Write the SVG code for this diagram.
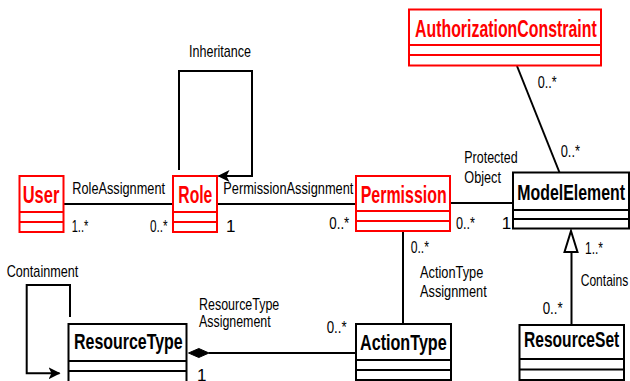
<svg xmlns="http://www.w3.org/2000/svg" width="630" height="381" viewBox="0 0 630 381">
<style>
.box{fill:#fff;stroke:#000;stroke-width:2}
.red .box{stroke:#ff0000}
.sep{stroke:#000;stroke-width:2}
.red .sep{stroke:#ff0000}
.title{font-family:"Liberation Sans",Arial,sans-serif;font-weight:bold;font-size:22.5px;fill:#000}
.red .title{fill:#ff0000;font-size:24px}
.lbl{font-family:"Liberation Sans",Arial,sans-serif;font-size:17px;fill:#000}
.ln{fill:none;stroke:#000;stroke-width:2}
</style>
<defs>
<marker id="arr" viewBox="0 0 12 12" refX="11" refY="6" markerWidth="12" markerHeight="12" markerUnits="userSpaceOnUse" orient="auto">
<path d="M0,0 L12,6 L0,12 L3,6 Z" fill="#000"/>
</marker>
</defs>
<rect width="630" height="381" fill="#fff"/>

<g id="connectors">
<line class="ln" x1="63" y1="204" x2="173" y2="204"/>
<line class="ln" x1="217" y1="204" x2="356" y2="204"/>
<line class="ln" x1="450" y1="203" x2="513" y2="203"/>
<line class="ln" x1="517" y1="66" x2="559.5" y2="172.5"/>
<line class="ln" x1="403" y1="231" x2="403" y2="324"/>
<line class="ln" x1="209" y1="353" x2="356" y2="353"/>
<path d="M188.5,353 L198.8,348.5 L209,353 L198.8,357.5 Z" fill="#000" stroke="#000" stroke-width="1"/>
<line class="ln" x1="571.5" y1="252" x2="571.5" y2="325"/>
<path d="M571,231 L577.5,252 L564.5,252 Z" fill="#fff" stroke="#000" stroke-width="2"/>
<path class="ln" d="M179,170 V71 H252 V176 H218.5" marker-end="url(#arr)"/>
<path class="ln" d="M70,317 V285 H26.7 V373.3 H59.5" marker-end="url(#arr)"/>
</g>

<g id="labels">
<text class="lbl" x="189" y="56.7" textLength="62" lengthAdjust="spacingAndGlyphs">Inheritance</text>
<text class="lbl" x="72.3" y="194" textLength="92.7" lengthAdjust="spacingAndGlyphs">RoleAssignment</text>
<text class="lbl" x="71.7" y="231.7" textLength="16.6" lengthAdjust="spacingAndGlyphs">1..*</text>
<text class="lbl" x="150" y="231.7" textLength="17.7" lengthAdjust="spacingAndGlyphs">0..*</text>
<text class="lbl" x="226" y="231.7">1</text>
<text class="lbl" x="223.3" y="194" textLength="130" lengthAdjust="spacingAndGlyphs">PermissionAssignment</text>
<text class="lbl" x="329.3" y="229" textLength="20" lengthAdjust="spacingAndGlyphs">0..*</text>
<text class="lbl" x="464.3" y="162.7" textLength="53.4" lengthAdjust="spacingAndGlyphs">Protected</text>
<text class="lbl" x="464.3" y="182.7" textLength="36.7" lengthAdjust="spacingAndGlyphs">Object</text>
<text class="lbl" x="456" y="229" textLength="19" lengthAdjust="spacingAndGlyphs">0..*</text>
<text class="lbl" x="501.7" y="229">1</text>
<text class="lbl" x="560.7" y="157.3" textLength="19.3" lengthAdjust="spacingAndGlyphs">0..*</text>
<text class="lbl" x="537.7" y="88.3" textLength="19" lengthAdjust="spacingAndGlyphs">0..*</text>
<text class="lbl" x="410.7" y="253.3" textLength="18.3" lengthAdjust="spacingAndGlyphs">0..*</text>
<text class="lbl" x="420" y="278.3" textLength="63.3" lengthAdjust="spacingAndGlyphs">ActionType</text>
<text class="lbl" x="420" y="296.7" textLength="66.7" lengthAdjust="spacingAndGlyphs">Assignment</text>
<text class="lbl" x="585" y="254" textLength="18" lengthAdjust="spacingAndGlyphs">1..*</text>
<text class="lbl" x="580.7" y="286" textLength="47.6" lengthAdjust="spacingAndGlyphs">Contains</text>
<text class="lbl" x="542.7" y="314" textLength="20" lengthAdjust="spacingAndGlyphs">0..*</text>
<text class="lbl" x="6.7" y="277.3" textLength="71.6" lengthAdjust="spacingAndGlyphs">Containment</text>
<text class="lbl" x="199" y="310" textLength="80.3" lengthAdjust="spacingAndGlyphs">ResourceType</text>
<text class="lbl" x="199" y="327.3" textLength="71.7" lengthAdjust="spacingAndGlyphs">Assignement</text>
<text class="lbl" x="326.7" y="332.7" textLength="20" lengthAdjust="spacingAndGlyphs">0..*</text>
<text class="lbl" x="197" y="381">1</text>
</g>

<g id="User" class="red">
<rect class="box" x="19.5" y="176" width="44" height="56"/>
<line class="sep" x1="19.5" y1="212" x2="63.5" y2="212"/>
<line class="sep" x1="19.5" y1="222" x2="63.5" y2="222"/>
<text class="title" x="22.7" y="202.7" textLength="36.6" lengthAdjust="spacingAndGlyphs">User</text>
</g>

<g id="Role" class="red">
<rect class="box" x="173" y="176" width="44" height="56"/>
<line class="sep" x1="173" y1="212" x2="217" y2="212"/>
<line class="sep" x1="173" y1="222" x2="217" y2="222"/>
<text class="title" x="178.3" y="202.7" textLength="34" lengthAdjust="spacingAndGlyphs">Role</text>
</g>

<g id="Permission" class="red">
<rect class="box" x="356" y="176" width="94" height="55"/>
<line class="sep" x1="356" y1="211" x2="450" y2="211"/>
<line class="sep" x1="356" y1="221" x2="450" y2="221"/>
<text class="title" x="360.7" y="203.3" textLength="86" lengthAdjust="spacingAndGlyphs">Permission</text>
</g>

<g id="AuthorizationConstraint" class="red">
<rect class="box" x="409" y="9.5" width="192" height="56"/>
<line class="sep" x1="409" y1="45" x2="601" y2="45"/>
<line class="sep" x1="409" y1="55" x2="601" y2="55"/>
<text class="title" x="415" y="36.5" textLength="181.7" lengthAdjust="spacingAndGlyphs">AuthorizationConstraint</text>
</g>

<g id="ModelElement">
<rect class="box" x="513" y="172.5" width="116" height="56"/>
<line class="sep" x1="513" y1="210" x2="629" y2="210"/>
<line class="sep" x1="513" y1="219" x2="629" y2="219"/>
<text class="title" x="517.3" y="200" textLength="107.7" lengthAdjust="spacingAndGlyphs">ModelElement</text>
</g>

<g id="ResourceType">
<rect class="box" x="68.5" y="324" width="118" height="62"/>
<line class="sep" x1="68.5" y1="361" x2="186.5" y2="361"/>
<line class="sep" x1="68.5" y1="371" x2="186.5" y2="371"/>
<text class="title" x="74" y="349.3" textLength="108.7" lengthAdjust="spacingAndGlyphs">ResourceType</text>
</g>

<g id="ActionType">
<rect class="box" x="356" y="324" width="95" height="56"/>
<line class="sep" x1="356" y1="360" x2="451" y2="360"/>
<line class="sep" x1="356" y1="370" x2="451" y2="370"/>
<text class="title" x="360" y="350" textLength="86.7" lengthAdjust="spacingAndGlyphs">ActionType</text>
</g>

<g id="ResourceSet">
<rect class="box" x="519.5" y="325" width="104.5" height="55"/>
<line class="sep" x1="519.5" y1="359" x2="624" y2="359"/>
<line class="sep" x1="519.5" y1="369.5" x2="624" y2="369.5"/>
<text class="title" x="524" y="346.7" textLength="95.3" lengthAdjust="spacingAndGlyphs">ResourceSet</text>
</g>
</svg>
